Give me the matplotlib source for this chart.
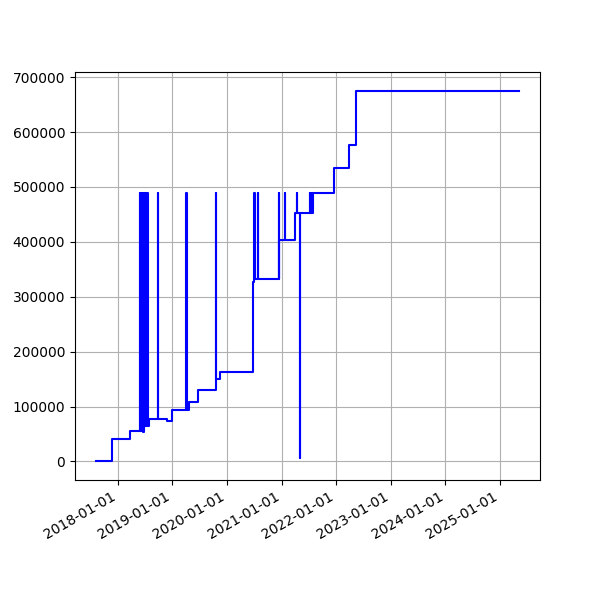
import matplotlib
matplotlib.use("Agg")
import matplotlib.pyplot as plt
import matplotlib.dates as mdates
import pandas as pd

# step points (date, value)
dates = [
    "2017-08-10", "2017-11-25", "2018-03-22",
    "2018-05-30", "2018-05-31", "2018-06-04", "2018-06-05", "2018-06-09", "2018-06-10",
    "2018-06-14", "2018-06-15", "2018-06-19", "2018-06-20", "2018-06-24", "2018-06-25",
    "2018-06-29", "2018-06-30", "2018-07-04", "2018-07-05", "2018-07-09", "2018-07-10",
    "2018-07-14", "2018-07-15", "2018-07-19", "2018-07-20",
    "2018-07-31", "2018-09-25", "2018-09-26", "2018-11-26", "2018-12-27",
    "2019-04-06", "2019-04-07", "2019-04-26", "2019-06-25", "2019-10-17", "2019-10-18",
    "2019-11-17", "2020-06-27", "2020-07-03", "2020-07-04", "2020-07-24", "2020-07-25",
    "2020-12-12", "2020-12-13", "2020-12-17", "2021-01-24", "2021-01-25",
    "2021-03-29", "2021-04-11", "2021-04-12", "2021-05-03", "2021-05-04",
    "2021-07-07", "2021-07-10", "2021-07-14", "2021-07-18", "2021-07-22", "2021-07-26",
    "2021-07-30", "2021-12-15", "2022-03-27", "2022-05-11", "2025-05-06",
]
values = [
    0, 41200, 54700,
    488000, 54700, 488000, 54700, 488000, 60000,
    488000, 60000, 488000, 53500, 488000, 64300,
    488000, 64300, 488000, 64300, 488000, 64300,
    488000, 64300, 488000, 64300,
    76600, 488000, 76600, 72900, 93000,
    488000, 93000, 108000, 130000, 488000, 149500,
    163300, 326000, 488000, 331500, 488000, 331500,
    488000, 331500, 403000, 488000, 403000,
    452000, 488000, 452000, 7000, 452000,
    488000, 452000, 488000, 452000, 488000, 452000,
    488000, 535000, 576600, 675500, 675500,
]

x = pd.to_datetime(dates)

fig, ax = plt.subplots(figsize=(6, 6), dpi=100)
ax.plot(x, values, color="blue", drawstyle="steps-post")
ax.grid(True)
ax.xaxis.set_major_locator(mdates.YearLocator())
ax.xaxis.set_major_formatter(mdates.DateFormatter("%Y-%m-%d"))
fig.autofmt_xdate()

plt.savefig("out.png")
